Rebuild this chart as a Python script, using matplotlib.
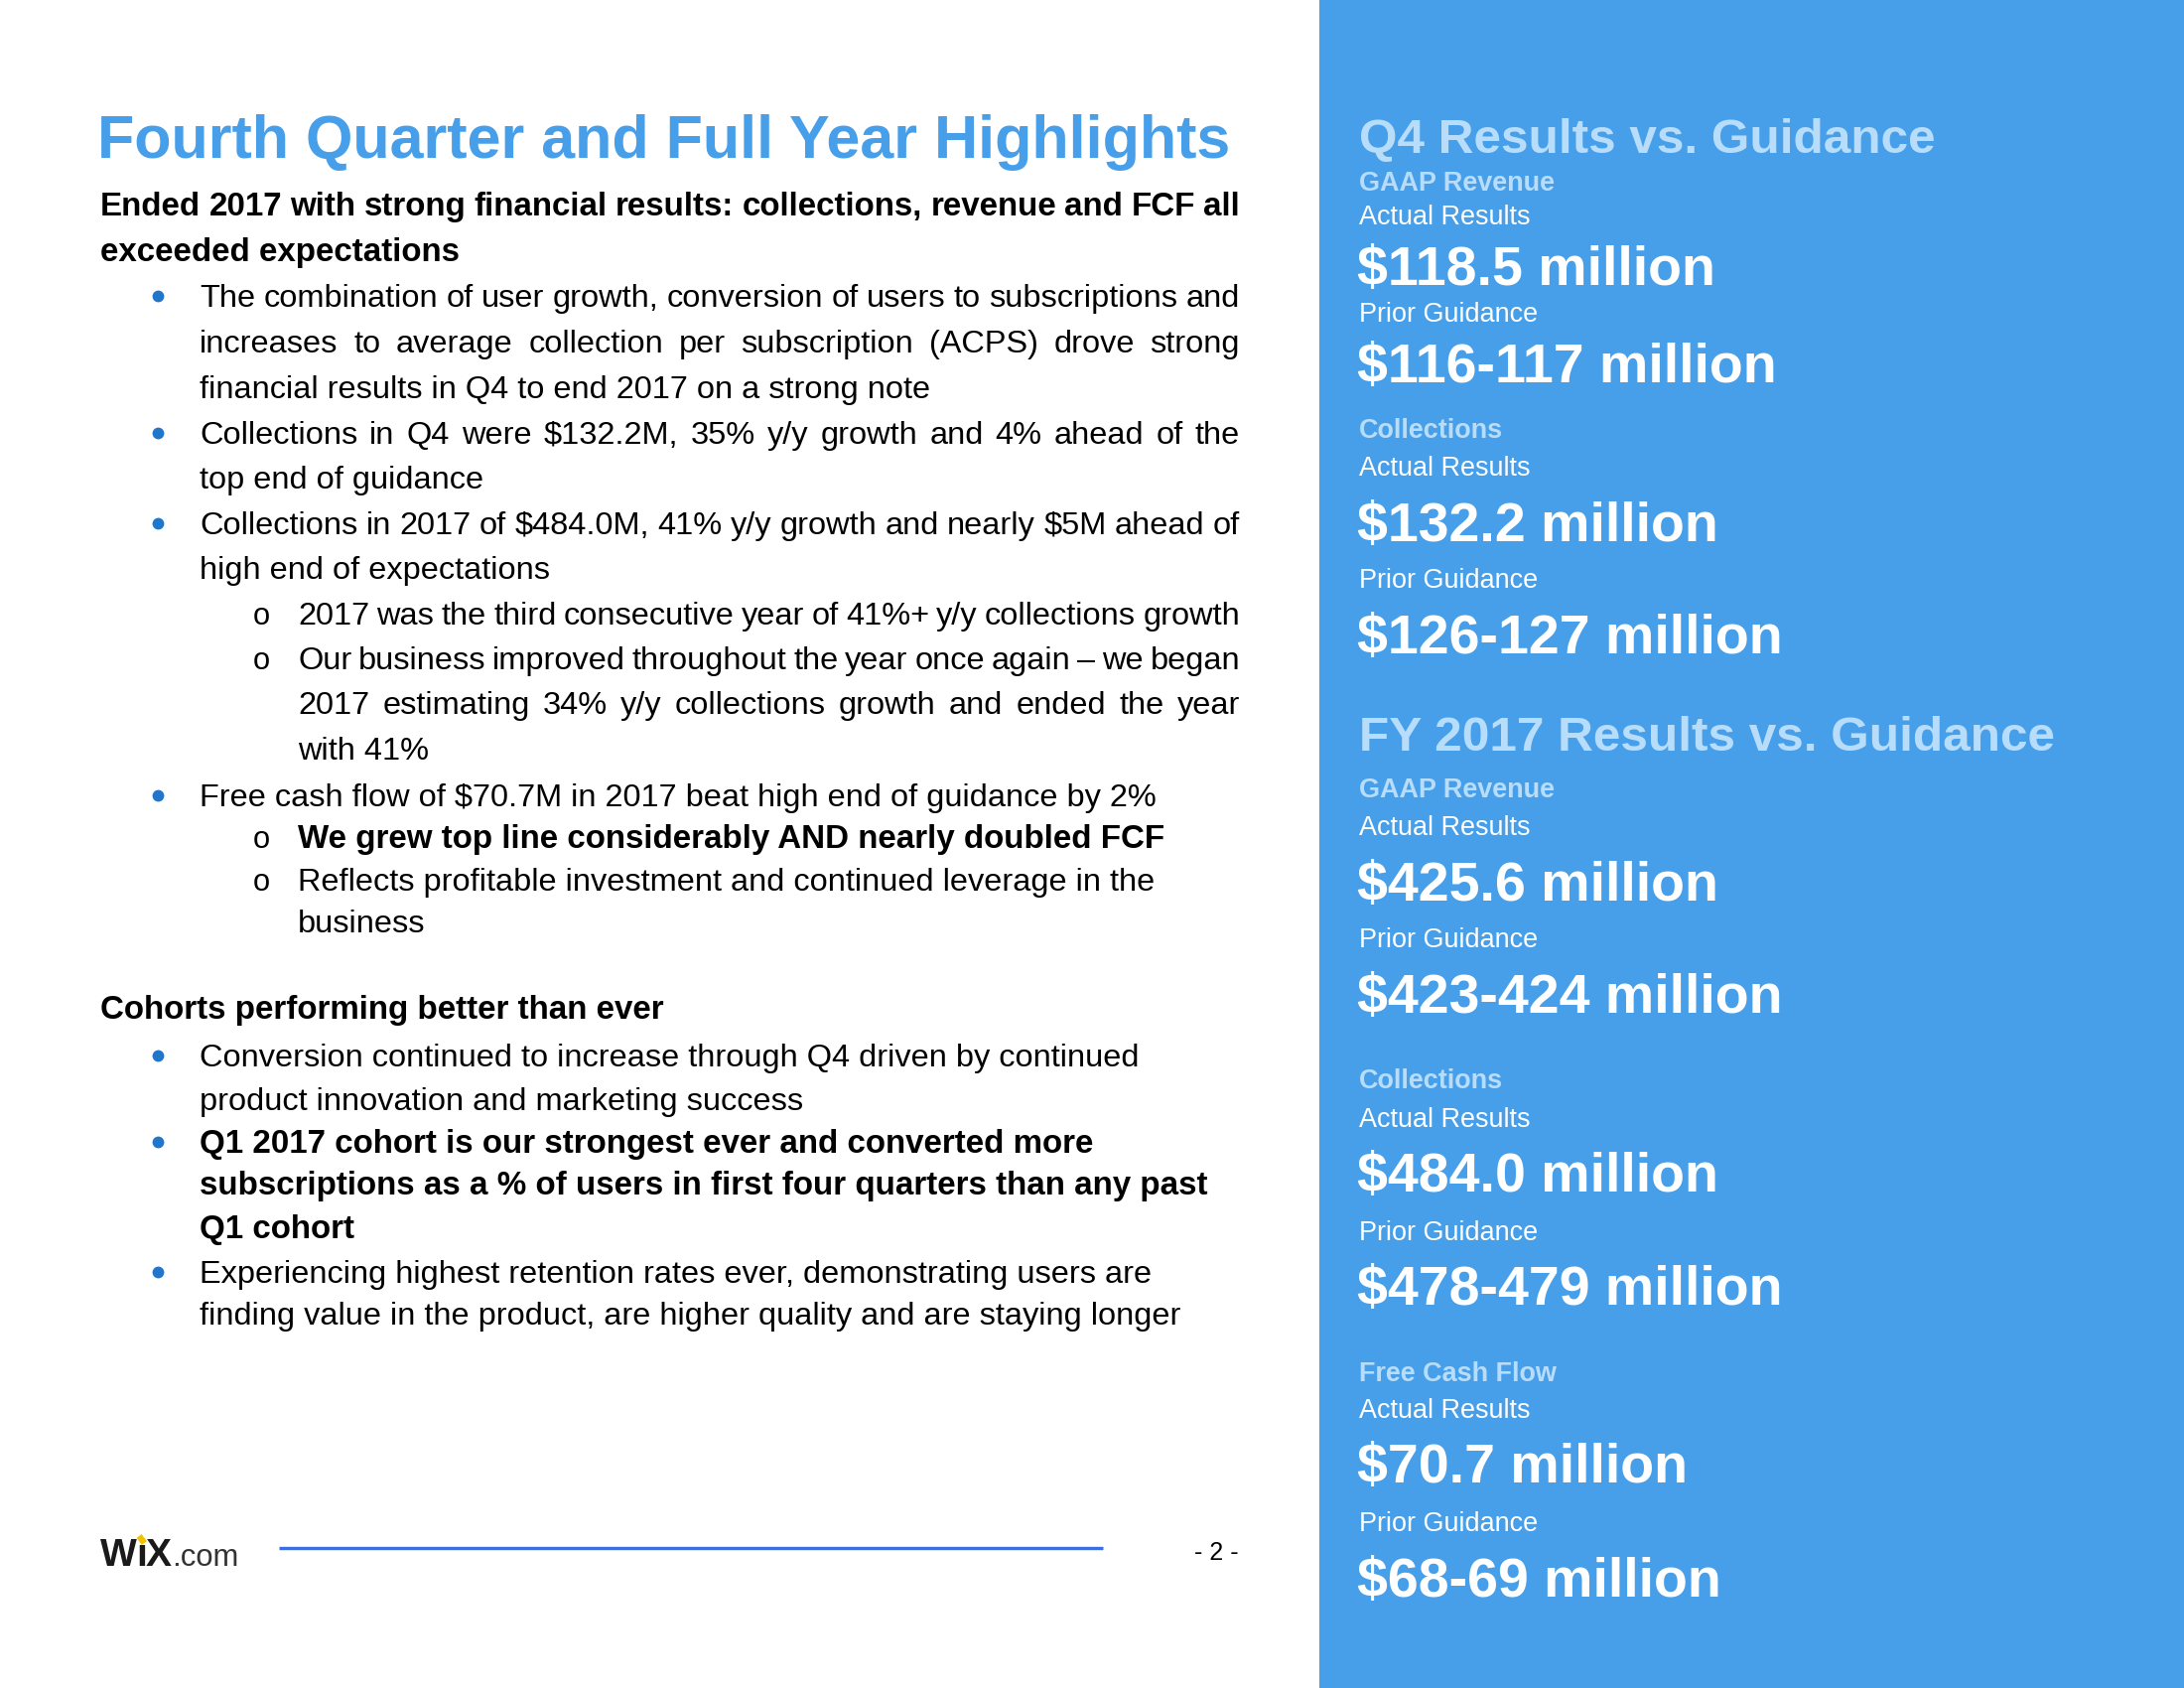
import matplotlib
matplotlib.use("Agg")
import matplotlib.pyplot as plt
from matplotlib.patches import Rectangle

# slide text
title = "Fourth Quarter and Full Year Highlights"
headline_1 = ["Ended 2017 with strong financial results: collections, revenue and FCF all",
              "exceeded expectations"]
s1_paragraphs = [
    (1, ["The combination of user growth, conversion of users to subscriptions and",
         "increases to average collection per subscription (ACPS) drove strong",
         "financial results in Q4 to end 2017 on a strong note"]),
    (1, ["Collections in Q4 were $132.2M, 35% y/y growth and 4% ahead of the",
         "top end of guidance"]),
    (1, ["Collections in 2017 of $484.0M, 41% y/y growth and nearly $5M ahead of",
         "high end of expectations"]),
    (2, ["2017 was the third consecutive year of 41%+ y/y collections growth"]),
    (2, ["Our business improved throughout the year once again \u2013 we began",
         "2017 estimating 34% y/y collections growth and ended the year",
         "with 41%"]),
    (1, ["Free cash flow of $70.7M in 2017 beat high end of guidance by 2%"]),
    (2, ["We grew top line considerably AND nearly doubled FCF"]),
    (2, ["Reflects profitable investment and continued leverage in the",
         "business"]),
]
headline_2 = ["Cohorts performing better than ever"]
s2_paragraphs = [
    (1, ["Conversion continued to increase through Q4 driven by continued",
         "product innovation and marketing success"]),
    (1, ["Q1 2017 cohort is our strongest ever and converted more",
         "subscriptions as a % of users in first four quarters than any past",
         "Q1 cohort"]),
    (1, ["Experiencing highest retention rates ever, demonstrating users are",
         "finding value in the product, are higher quality and are staying longer"]),
]
page_label = "- 2 -"

q4_header = "Q4 Results vs. Guidance"
q4_metrics = ["GAAP Revenue", "Collections"]
q4_actual = ["$118.5 million", "$132.2 million"]
q4_guidance = ["$116-117 million", "$126-127 million"]
fy_header = "FY 2017 Results vs. Guidance"
fy_metrics = ["GAAP Revenue", "Collections", "Free Cash Flow"]
fy_actual = ["$425.6 million", "$484.0 million", "$70.7 million"]
fy_guidance = ["$423-424 million", "$478-479 million", "$68-69 million"]

# layout (pixels)
s1_bold = {6}
s2_bold = {1}
s1_justify = {0, 1, 2, 3, 4}
s1_y = [297, 343, 389, 435, 480, 526, 571, 617, 662, 707, 753, 800, 842, 885, 927]
s2_y = [1062, 1106, 1149, 1191, 1235, 1280, 1322]
right_y = [136, 182, 216, 267, 314, 365, 431, 469, 525, 582, 638,
           738, 793, 831, 887, 944, 1000, 1086, 1125, 1180, 1239, 1294,
           1381, 1418, 1473, 1532, 1588]

BLUE = "#479FEA"
LIGHT = "#B7DDFA"
FONT = "Liberation Sans"
BODY = 32.5
BODY_B = 33.2
X_L, X_B, X_T, X_SO, X_ST, X_R = 101, 159, 201, 262, 300, 1249
X_P = 1369

fig = plt.figure(figsize=(22, 17), dpi=100)
ax = fig.add_axes([0, 0, 1, 1])
ax.set_xlim(0, 2200)
ax.set_ylim(1700, 0)
ax.axis("off")
ax.add_patch(Rectangle((1329, 0), 871, 1700, color=BLUE, lw=0))
renderer = fig.canvas.get_renderer()


def put(x, yc, s, px, color="black", bold=False, **kw):
    return ax.text(x, yc + 0.358 * px, s, fontsize=px * 0.72, color=color,
                   fontfamily=FONT, fontweight="bold" if bold else "normal",
                   va="baseline", ha="left", **kw)


def width(a):
    return a.get_window_extent(renderer).width


def justify(x0, x1, yc, s, px, bold=False):
    words = s.split(" ")
    arts = [put(0, yc, w, px, bold=bold) for w in words]
    widths = [width(a) for a in arts]
    gap = (x1 - x0 - sum(widths)) / (len(words) - 1)
    x = x0
    for a, w in zip(arts, widths):
        a.set_x(x)
        x += w + gap


def paragraphs(paras, ys, bold_set, just_set):
    k = 0
    for i, (lvl, lines) in enumerate(paras):
        xt = X_T if lvl == 1 else X_ST
        if lvl == 1:
            ax.plot([X_B], [ys[k] + 1], "o", ms=8.5, color="#2176CB", mec="none")
        else:
            put(X_SO - 7, ys[k] + 1, "o", BODY * 0.95)
        b = i in bold_set
        px = BODY_B if b else BODY
        for j, line in enumerate(lines):
            t = put(xt, ys[k], line, px, bold=b)
            if (i in just_set and j < len(lines) - 1) or xt + width(t) > X_R:
                t.remove()
                justify(xt, X_R, ys[k], line, px, bold=b)
            k += 1


put(X_L - 3, 137, title, 61, color=BLUE, bold=True)
justify(X_L, X_R, 205, headline_1[0], BODY_B, bold=True)
put(X_L, 251, headline_1[1], BODY_B, bold=True)
paragraphs(s1_paragraphs, s1_y, s1_bold, s1_justify)
put(X_L, 1014, headline_2[0], BODY_B, bold=True)
paragraphs(s2_paragraphs, s2_y, s2_bold, set())

# footer
ax.plot([281, 1111], [1559, 1559], color="#3B6FE0", lw=2.4, solid_capstyle="butt")
x = X_L
for ch in ["W", "\u0131", "X"]:
    a = put(x, 1563, ch, 39, bold=True, color="#1A1A1A")
    w = width(a)
    if ch == "\u0131":
        ax.plot([x + w * 0.3, x + w * 0.8], [1547, 1554], color="#F2C200", lw=4.5,
                solid_capstyle="butt")
    x += w - 1
put(x + 1, 1566, ".com", 31, color="#333333")
put(1203, 1562, page_label, 25)

# right panel
k = 0
for header, metrics, actual, guide in [(q4_header, q4_metrics, q4_actual, q4_guidance),
                                       (fy_header, fy_metrics, fy_actual, fy_guidance)]:
    put(X_P, right_y[k], header, 49.5, color=LIGHT, bold=True)
    k += 1
    for m, a, g in zip(metrics, actual, guide):
        put(X_P, right_y[k], m, 27, color=LIGHT, bold=True)
        put(X_P, right_y[k + 1], "Actual Results", 27, color="white")
        put(X_P - 2, right_y[k + 2], a, 55.5, color="white", bold=True)
        put(X_P, right_y[k + 3], "Prior Guidance", 27, color="white")
        put(X_P - 2, right_y[k + 4], g, 55.5, color="white", bold=True)
        k += 5

fig.savefig("out.png", dpi=100)
